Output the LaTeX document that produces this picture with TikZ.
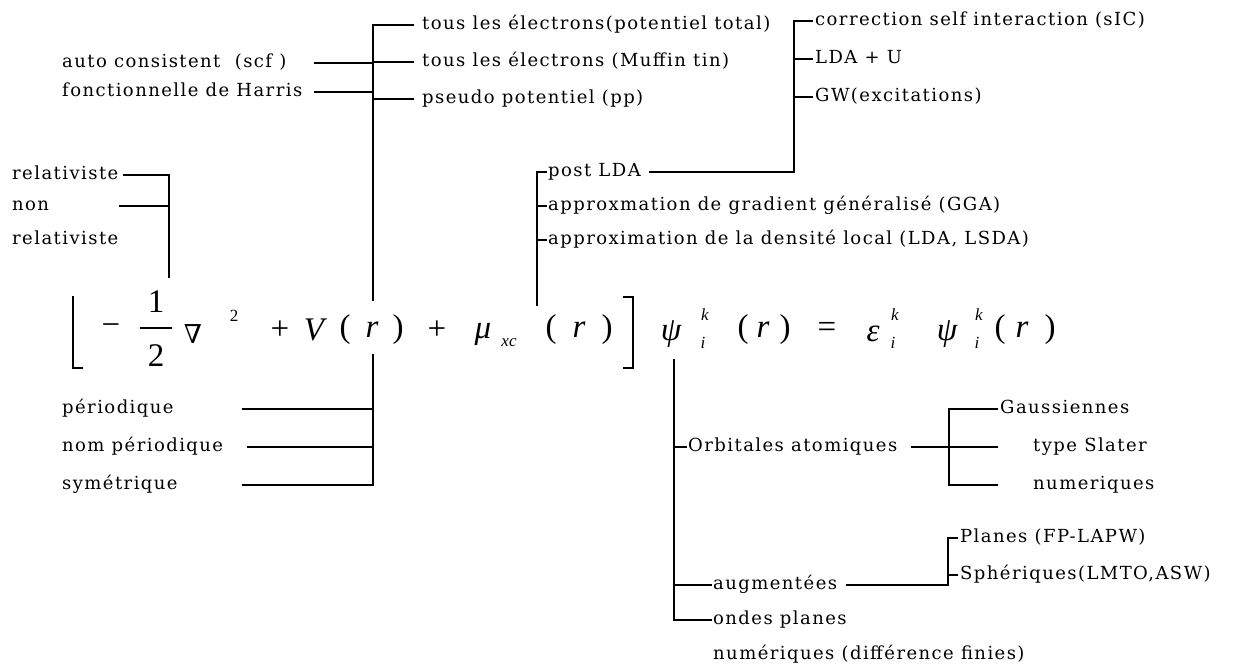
\documentclass[tikz,border=0pt]{standalone}
\usepackage{fontspec}
\setmainfont{DejaVu Serif}[LetterSpace=8]
\newfontfamily\eqfont{Liberation Serif}
\newfontfamily\symfont{DejaVu Serif}
\usetikzlibrary{positioning}

\tikzset{
  lbl/.style={anchor=west, inner sep=0pt, text height=13pt, text depth=4pt, font=\fontsize{18}{21}\selectfont},
  glyph/.style={inner sep=0pt, font=\eqfont\fontsize{33}{36}\selectfont\itshape},
  upglyph/.style={inner sep=0pt, font=\eqfont\fontsize{33}{36}\selectfont},
  idx/.style={inner sep=0pt, font=\eqfont\fontsize{17}{20}\selectfont\itshape},
  link/.style={line width=1.6pt, line cap=rect}
}

\begin{document}
\begin{tikzpicture}[x=1pt, y=-1pt]
  \useasboundingbox (0,0) rectangle (1251,671);

  % l'equation de Kohn-Sham
  \node[upglyph] (moins) at (111,330) {−};
  \node[upglyph] (un) at (156,302) {1};
  \node[upglyph] (deux) at (156,356) {2};
  \draw[line width=1.3pt] (140,328) -- (172,328);
  \node[upglyph, font=\symfont\fontsize{26}{30}\selectfont] (nabla) at (193,334) {∇};
  \node[idx, font=\eqfont\fontsize{17}{20}\selectfont] (carre) at (234,316) {2};
  \node[upglyph] (plusa) at (280,330) {+};
  \node[glyph] (pot) at (314,330) {V};
  \node[upglyph] (pga) at (345,330) {(};
  \node[glyph] (ra) at (372,330) {r};
  \node[upglyph] (pda) at (398,330) {)};
  \node[upglyph] (plusb) at (437,330) {+};
  \node[glyph] (mu) at (483,334) {μ};
  \node[idx] (xc) at (509,343) {xc};
  \node[upglyph] (pgb) at (551,330) {(};
  \node[glyph] (rb) at (579,330) {r};
  \node[upglyph] (pdb) at (607,330) {)};
  \node[glyph] (psia) at (671,334) {ψ};
  \node[idx] (ia) at (703,343) {i};
  \node[idx] (ka) at (705,315) {k};
  \node[upglyph] (pgc) at (743,330) {(};
  \node[glyph] (rc) at (763,330) {r};
  \node[upglyph] (pdc) at (785,330) {)};
  \node[upglyph] (egal) at (827,330) {=};
  \node[glyph] (eps) at (873,334) {ε};
  \node[idx] (ib) at (893,343) {i};
  \node[idx] (kb) at (895,315) {k};
  \node[glyph] (psib) at (947,334) {ψ};
  \node[idx] (ic) at (977,343) {i};
  \node[idx] (kc) at (979,315) {k};
  \node[upglyph] (pgd) at (1000,330) {(};
  \node[glyph] (rd) at (1022,330) {r};
  \node[upglyph] (pdd) at (1050,330) {)};
  \draw[link] (73,297) -- (73,368) -- (82,368);
  \draw[link] (624,297) -- (633,297) -- (633,368) -- (624,368);

  % textes
  \node[lbl] (total) at (422,25) {tous les électrons(potentiel total)};
  \node[lbl] (muffin) at (422,62) {tous les électrons (Muffin tin)};
  \node[lbl] (pseudo) at (422,99) {pseudo potentiel (pp)};
  \node[lbl] (scf) at (62,63) {auto consistent \ (scf )};
  \node[lbl] (harris) at (62,92) {fonctionnelle de Harris};
  \node[lbl] (sic) at (815,21) {correction self interaction (sIC)};
  \node[lbl] (ldau) at (815,59) {LDA + U};
  \node[lbl] (gw) at (815,97) {GW(excitations)};
  \node[lbl] (postlda) at (548,172) {post LDA};
  \node[lbl] (gga) at (548,206) {approxmation de gradient généralisé (GGA)};
  \node[lbl] (lda) at (548,240) {approximation de la densité local (LDA, LSDA)};
  \node[lbl] (relat) at (12,175) {relativiste};
  \node[lbl] (non) at (12,206) {non};
  \node[lbl] (relatb) at (12,240) {relativiste};
  \node[lbl] (perio) at (62,409) {périodique};
  \node[lbl] (nonperio) at (62,447) {nom périodique};
  \node[lbl] (sym) at (62,485) {symétrique};
  \node[lbl] (orbit) at (688,447) {Orbitales atomiques};
  \node[lbl] (gauss) at (1000,409) {Gaussiennes};
  \node[lbl] (slater) at (1033,447) {type Slater};
  \node[lbl] (numer) at (1033,485) {numeriques};
  \node[lbl] (planes) at (960,538) {Planes (FP-LAPW)};
  \node[lbl] (spher) at (960,575) {Sphériques(LMTO,ASW)};
  \node[lbl] (augm) at (713,585) {augmentées};
  \node[lbl] (ondes) at (713,620) {ondes planes};
  \node[lbl] (numdiff) at (713,655) {numériques (différence finies)};

  % points de branchement
  \coordinate (vhaut) at (373,25);
  \coordinate (vbas) at (373,300);
  \coordinate (vsous) at (373,355);
  \coordinate (muhaut) at (537,172);
  \coordinate (mubas) at (537,305);
  \coordinate (posthaut) at (794,21);
  \coordinate (relhaut) at (169,175);
  \coordinate (relbas) at (169,277);
  \coordinate (psihaut) at (674,360);
  \coordinate (psibas) at (674,620);
  \coordinate (orbhaut) at (949,409);
  \coordinate (orbbas) at (949,485);
  \coordinate (aughaut) at (948,538);
  \coordinate (scfL) at (315,63);
  \coordinate (harrisL) at (315,92);
  \coordinate (relL) at (124,175);
  \coordinate (nonL) at (120,206);
  \coordinate (perioL) at (243,409);
  \coordinate (nonperioL) at (248,447);
  \coordinate (symL) at (243,485);
  \coordinate (postL) at (650,172);
  \coordinate (orbL) at (912,447);
  \coordinate (augL) at (847,585);

  % potentiel
  \draw[link] (vhaut) -- (vbas);
  \draw[link, shorten >=9pt] (vhaut) -- (total.west);
  \draw[link, shorten >=9pt] (muffin.west -| vhaut) -- (muffin.west);
  \draw[link, shorten >=9pt] (pseudo.west -| vhaut) -- (pseudo.west);
  \draw[link] (scfL) -- (scfL -| vhaut);
  \draw[link] (harrisL) -- (harrisL -| vhaut);
  \draw[link] (vsous) -- (symL -| vsous);
  \draw[link] (perioL) -- (perioL -| vsous);
  \draw[link] (nonperioL) -- (nonperioL -| vsous);
  \draw[link] (symL) -- (symL -| vsous);

  % relativiste
  \draw[link] (relL) -- (relhaut) -- (relbas);
  \draw[link] (nonL) -- (nonL -| relhaut);

  % echange-correlation
  \draw[link] (muhaut) -- (mubas);
  \draw[link, shorten >=2pt] (muhaut) -- (postlda.west);
  \draw[link, shorten >=2pt] (gga.west -| muhaut) -- (gga.west);
  \draw[link, shorten >=2pt] (lda.west -| muhaut) -- (lda.west);
  \draw[link] (postL) -- (postL -| posthaut) -- (posthaut);
  \draw[link, shorten >=3pt] (posthaut) -- (sic.west);
  \draw[link, shorten >=3pt] (ldau.west -| posthaut) -- (ldau.west);
  \draw[link, shorten >=3pt] (gw.west -| posthaut) -- (gw.west);

  % fonction d'onde
  \draw[link] (psihaut) -- (psibas);
  \draw[link, shorten >=2pt] (psibas) -- (ondes.west);
  \draw[link, shorten >=2pt] (orbit.west -| psihaut) -- (orbit.west);
  \draw[link, shorten >=2pt] (augm.west -| psihaut) -- (augm.west);
  \draw[link] (orbL) -- (orbL -| orbhaut) -- ++(48,0);
  \draw[link] (orbhaut) -- (orbbas);
  \draw[link] (orbhaut) -- ++(48,0);
  \draw[link] (orbbas) -- ++(48,0);
  \draw[link] (augL) -- (augL -| aughaut) -- (aughaut);
  \draw[link, shorten >=3pt] (aughaut) -- (planes.west);
  \draw[link, shorten >=3pt] (spher.west -| aughaut) -- (spher.west);
\end{tikzpicture}
\end{document}
